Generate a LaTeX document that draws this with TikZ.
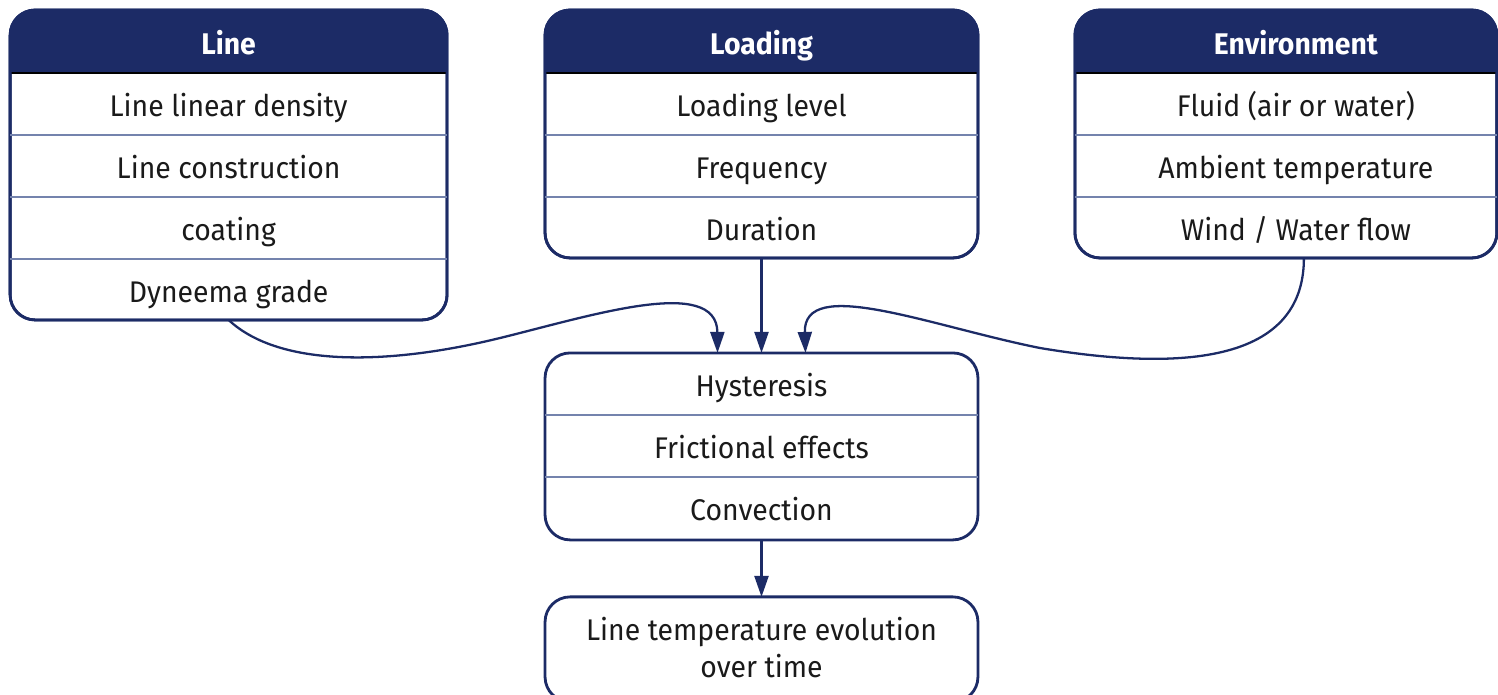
\documentclass[tikz,border=0pt]{standalone}
\usepackage{fontspec}
\setmainfont{Fira Sans}[FakeStretch=0.95]
\usetikzlibrary{arrows.meta,positioning}

\definecolor{navy}{HTML}{1C2B66}
\definecolor{rowrule}{HTML}{7483AD}
\definecolor{ink}{HTML}{1A1A1A}

\tikzset{
  group/.style={draw=navy, line width=1.6pt, rounded corners=0.5cm, fill=white,
    inner sep=0pt, outer sep=0pt},
  head/.style={text=white, anchor=base, font=\fontsize{17}{20}\selectfont\bfseries},
  item/.style={text=ink, anchor=base, font=\fontsize{17}{21}\selectfont},
  rowsep/.style={draw=rowrule, line width=1pt},
  link/.style={draw=navy, line width=1.3pt, -{Triangle[width=0.28cm,length=0.42cm]}},
}

\begin{document}
\begin{tikzpicture}[x=0.02cm, y=-0.02cm]
\useasboundingbox (0,0) rectangle (1498,694);

% input groups
\node[group, minimum width=8.66cm, minimum height=4.96cm, anchor=north] (loading) at (761.5,10) {};
\node[group, minimum width=8.74cm, minimum height=6.2cm, left=1.96cm of loading.north west, anchor=north east] (line) {};
\node[group, minimum width=8.44cm, minimum height=4.96cm, right=1.94cm of loading] (env) {};

% heat sources and result
\node[group, minimum width=8.66cm, minimum height=3.74cm, below=1.9cm of loading] (heat) {};
\node[group, minimum width=8.66cm, minimum height=2.1cm, below=1.14cm of heat] (result) {};

% header bands
\foreach \g in {line,loading,env}{
  \begin{scope}
    \clip[rounded corners=0.5cm] (\g.south west) rectangle (\g.north east);
    \fill[navy] (\g.north west) rectangle ([yshift=-1.26cm]\g.north east);
  \end{scope}
  \draw[black, line width=1.4pt] ([yshift=-1.26cm]\g.north west) -- ([yshift=-1.26cm]\g.north east);
  \draw[navy, line width=1.6pt, rounded corners=0.5cm] (\g.south west) rectangle (\g.north east);
}

\node[head] (line-h) at ([yshift=-0.9cm]line.north) {Line};
\node[head] (loading-h) at ([yshift=-0.9cm]loading.north) {Loading};
\node[head] (env-h) at ([yshift=-0.9cm,xshift=0.2cm]env.north) {Environment};

% rows
\foreach \k in {1,2,3}
  \draw[rowsep] ([yshift={-1.26cm-\k*1.24cm}]line.north west) -- ([yshift={-1.26cm-\k*1.24cm}]line.north east);
\foreach \k in {1,2}{
  \draw[rowsep] ([yshift={-1.26cm-\k*1.24cm}]loading.north west) -- ([yshift={-1.26cm-\k*1.24cm}]loading.north east);
  \draw[rowsep] ([yshift={-1.26cm-\k*1.24cm}]env.north west) -- ([yshift={-1.26cm-\k*1.24cm}]env.north east);
  \draw[rowsep] ([yshift={-\k*1.24cm}]heat.north west) -- ([yshift={-\k*1.24cm}]heat.north east);
}

\foreach \t [count=\k] in {Line linear density, Line construction, coating, Dyneema grade}
  \node[item] (line-\k) at ([yshift={-1.52cm-(\k-0.5)*1.24cm}]line.north) {\t};
\foreach \t [count=\k] in {Loading level, Frequency, Duration}
  \node[item] (loading-\k) at ([yshift={-1.52cm-(\k-0.5)*1.24cm}]loading.north) {\t};
\foreach \t [count=\k] in {{Fluid (air or water)}, Ambient temperature, {Wind / Water flow}}
  \node[item] (env-\k) at ([yshift={-1.52cm-(\k-0.5)*1.24cm},xshift=0.2cm]env.north) {\t};
\foreach \t [count=\k] in {Hysteresis, Frictional effects, Convection}
  \node[item] (heat-\k) at ([yshift={-0.26cm-(\k-0.5)*1.24cm}]heat.north) {\t};
\node[item, anchor=center, align=center] (result-t) at ([yshift=-1.02cm]result.north) {Line temperature evolution\\over time};

% connectors
\draw[link] (loading) -- (heat);
\draw[link] (heat) -- (result);
\draw[link] (line.south) .. controls (280,368) and (390,365) .. (500,338)
  .. controls (590,316) and (717,275) .. ([xshift=-0.88cm]heat.north);
\draw[link] ([xshift=0.36cm]env.south) .. controls (1304,345) and (1220,378) .. (1040,348)
  .. controls (930,326) and (803,275) .. ([xshift=0.88cm]heat.north);
\end{tikzpicture}
\end{document}
